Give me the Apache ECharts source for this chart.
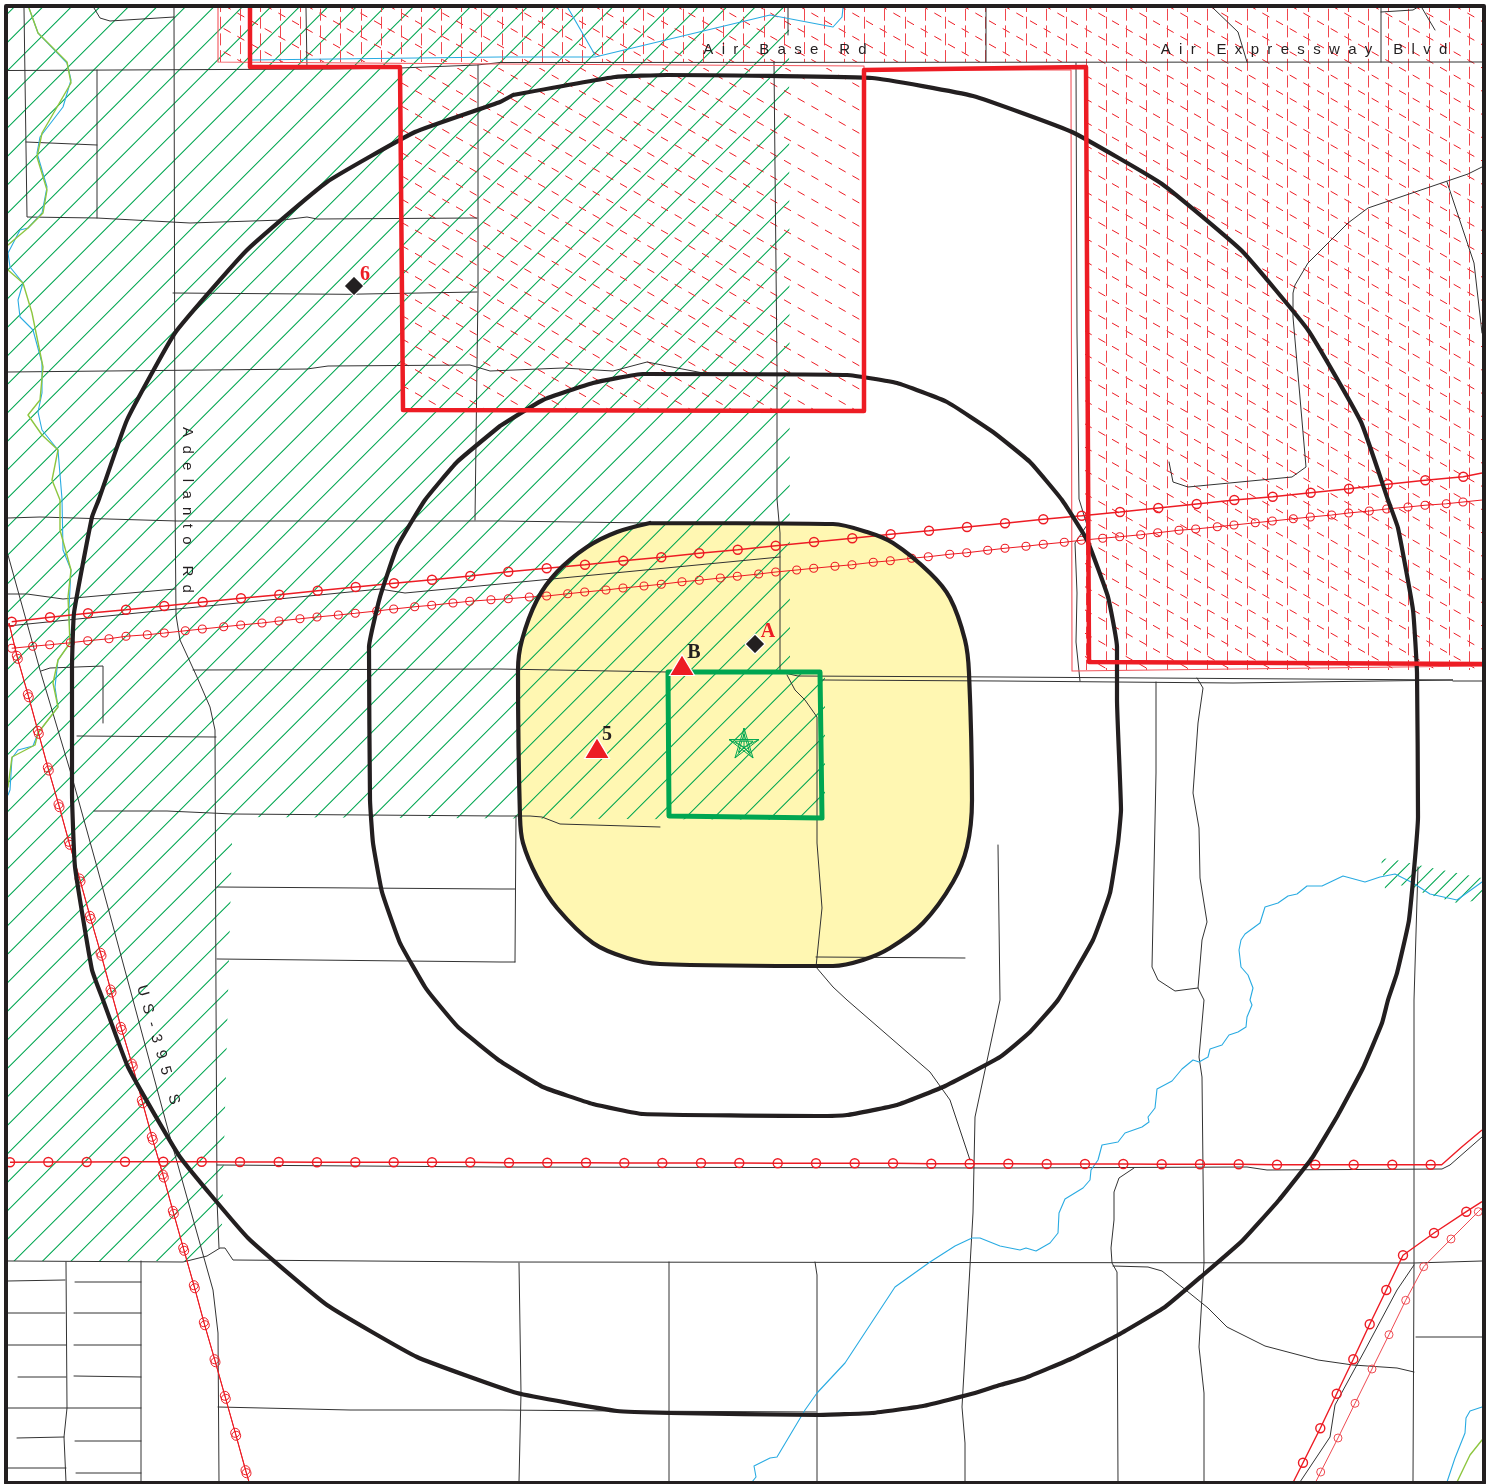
<!DOCTYPE html>
<html><head><meta charset="utf-8">
<style>html,body{margin:0;padding:0;background:#fff}#c{width:1492px;height:1484px}</style>
<script src="https://cdn.jsdelivr.net/npm/echarts@6/dist/echarts.min.js"></script>
</head><body><div id="c"></div>
<script>
// ---- map data (x, y in map units) ----
const frame=[[6,6],[1484,6],[1484,1483],[6,1483],[6,6]];
const outerRing=[[513,95],[615,77],[667,75],[872,78],[973,96],[1072,132],[1162,184],[1242,251],[1308,330],[1361,422],[1388,500],[1398,528],[1413,610],[1417,673],[1418,817],[1409,920],[1397,973],[1388,1000],[1382,1023],[1363,1068],[1338,1115],[1312,1158],[1279,1200],[1242,1241],[1203,1275],[1165,1307],[1118,1335],[1073,1358],[1025,1378],[1000,1385],[975,1393],[923,1406],[872,1413],[817,1415],[670,1413],[617,1411],[517,1393],[417,1357],[327,1305],[248,1238],[180,1157],[128,1067],[103,1000],[92,970],[75,867],[72,793],[72,667],[74,613],[92,517],[99,499],[127,420],[175,333],[247,250],[327,182],[415,132],[500,102],[513,95]];
const midRing=[[500,426],[543,400],[593,383],[643,374],[847,375],[897,383],[947,402],[993,432],[1030,462],[1062,500],[1087,540],[1108,597],[1117,647],[1117,700],[1121,810],[1118,843],[1110,893],[1093,940],[1058,1000],[1030,1032],[1000,1057],[943,1087],[897,1105],[847,1115],[817,1116],[643,1114],[593,1104],[543,1087],[500,1061],[458,1027],[435,1000],[425,987],[400,943],[382,892],[373,843],[370,800],[369,647],[380,597],[397,547],[425,500],[457,462],[500,426]];
const innerRing=[[650,523],[833,524],[867,532],[893,543],[930,573],[950,598],[965,640],[969,673],[972,800],[967,847],[953,882],[923,923],[890,948],[863,960],[833,966],[660,964],[627,958],[593,943],[557,908],[537,877],[523,843],[520,817],[518,670],[522,640],[537,600],[557,572],[587,547],[617,532],[650,523]];
const greenSquare=[[668,672],[820,672],[822,818],[669,816],[668,672]];
const greenZone=[[8,8],[789,8],[790,672],[825,672],[825,820],[232,817],[232,843],[222,1225],[190,1261],[8,1261]];
const greenPatch=[[1381,858],[1396,860],[1432,868],[1482,878],[1482,900],[1457,903],[1430,895],[1400,885],[1385,889]];
const redBlock=[[400,68],[864,68],[864,410],[400,410]];
const redBand=[[218,8],[1482,8],[1482,670],[1085,670],[1085,62],[218,62]];
const redThick=[[250,8],[250,67],[400,67],[403,410],[864,411],[864,70],[1086,67],[1089,662],[1482,664]];
const redThin=[[218,8],[218,62],[500,64],[864,66],[864,70],[1071,70],[1072,671],[1482,666]];

const powerA=[[11.7,621.7],[50,617.3],[88,613.3],[126,609.7],[164.3,606],[202.7,602],[241,598.3],[279.3,594.7],[317.7,590.7],[355.7,587],[394,583.3],[432,579.7],[470.3,576],[508.3,571.7],[546.7,568.3],[585,564.7],[623.3,560.7],[661.3,557.3],[699.3,553.3],[737.7,549.7],[775.7,545.7],[814,542],[852.3,538.3],[890.7,534.3],[929,530.7],[967,527],[1005,523.3],[1043.3,519.3],[1081.7,515.7],[1120,512],[1158.3,508],[1196.7,504],[1234.3,500],[1272.7,496.7],[1310.7,492.7],[1349,488.7],[1387.7,484.3],[1425.3,480.3],[1463.3,476.7]];
const powerAEnd=[1482,473];
const powerB=[[11.7,648.3],[32.7,646.3],[49.7,644.7],[70.3,642.7],[87.7,640.7],[109,638.7],[126,636.3],[147.3,634.7],[164.3,633],[185.3,630.7],[202.3,629],[223.7,626.7],[240.7,625],[262,623],[279,621],[300,618.7],[317,617],[338.3,615],[355.3,613.3],[376.7,611],[393.7,609],[414.7,606.7],[431.7,605.3],[453,603],[469.7,601.3],[491,599.7],[508.3,598.7],[529.3,597],[546.7,596],[567.7,593.7],[584.7,592],[606,590],[623,588],[644,586],[661.3,584.3],[682,581.7],[699.3,580.3],[720.3,578],[737.3,576.3],[758.7,574],[775.7,572],[796.7,570],[813.7,568.3],[835,566.3],[852,564.7],[873.3,562.3],[890.3,560.7],[911.7,558.3],[928.3,556.7],[949.7,554.3],[966.7,552.7],[987.7,550.3],[1005,548.3],[1026,546.3],[1043.3,544.3],[1064.3,542.3],[1081.3,540.3],[1102.7,538.3],[1119.7,536.7],[1140.7,534.7],[1157.7,532.7],[1179,530.3],[1195.7,529],[1217.3,526.7],[1234,525],[1255.3,522.7],[1272.3,521],[1293.3,518.7],[1310.3,517],[1331.7,515],[1348.7,513],[1369.3,511],[1386.7,509],[1408,507],[1425,505.3],[1446.3,503.7],[1463,502]];
const powerBEnd=[1482,500];
const powerC=[[10,1162.3],[48.3,1162],[86.7,1162],[125,1161.7],[163.3,1161.7],[201.7,1161.7],[240,1162],[278.7,1162],[317,1162.3],[355.3,1162.3],[393.7,1162.3],[432,1162.3],[470.3,1162.3],[509,1162.7],[547.3,1162.7],[586,1162.7],[624.3,1163],[662.3,1163],[701,1163],[739.3,1163],[777.7,1163.3],[816,1163.3],[854.7,1163.3],[893,1163.3],[931.3,1163.7],[969.7,1163.7],[1008.3,1163.7],[1046.7,1164],[1085,1164],[1123.3,1164],[1161.7,1164.3],[1200,1164.3],[1238.7,1164.3],[1277,1164.7],[1315.3,1164.7],[1353.7,1164.7],[1392.3,1164.7],[1430.7,1164.7]];
const powerCBend=[1441.7,1164.7];
const powerCTail=[1462,1146.7];
const powerCEnd=[1482,1130];
const powerD1=[[16.8,655.8],[27.8,694.2],[37.8,730.8],[47.8,767.5],[58.5,804.2],[68.8,841.8],[79.5,878.5],[89.8,915.8],[100.5,952.8],[110.5,989.5],[120.8,1026.8],[131.8,1063.5],[141.8,1100.2],[151.8,1136.8],[162.8,1174.5],[172.8,1210.8],[183.2,1247.8],[193.8,1285.2],[203.8,1322.2],[214.5,1359.2],[224.8,1395.8],[235.2,1432.8],[245.5,1470.2]];
const powerD2=[[17.8,658.8],[28.8,697.2],[38.8,733.8],[48.8,770.5],[59.5,807.2],[69.8,844.8],[80.5,881.5],[90.8,918.8],[101.5,955.8],[111.5,992.5],[121.8,1029.8],[132.8,1066.5],[142.8,1103.2],[152.8,1139.8],[163.8,1177.5],[173.8,1213.8],[184.2,1250.8],[194.8,1288.2],[204.8,1325.2],[215.5,1362.2],[225.8,1398.8],[236.2,1435.8],[246.5,1473.2]];
const powerDStart=[9,623];
const powerDEnd=[249,1482];
const powerE=[[1466.3,1211.7],[1434,1233],[1403,1255.3],[1386.3,1290],[1369.7,1324.3],[1353.3,1359.3],[1336.7,1393.7],[1320.3,1428.3],[1303,1462.7]];
const powerEStart=[1482,1201.7];
const powerEEnd=[1293.3,1482];
const powerF=[[1478.3,1211.7],[1451,1239],[1423.7,1266.7],[1405.7,1300.3],[1389,1334.7],[1372,1369],[1355,1403.3],[1338,1438],[1320.7,1472]];
const powerFStart=[1482,1208];
const powerFEnd=[1315.7,1482];

const roads=[
[[8,70.5],[330,69],[400,68],[477,65],[500,62.5],[1482,62]],
[[174,8],[175,499],[176,615],[180,640],[197,677],[210,707],[215,730],[216,999],[217,1200],[219,1248]],
[[24,8],[27,217],[97,218],[190,223],[283,220],[307,217],[317,219],[477,218]],
[[97,70],[97,218]],
[[26,142],[97,145]],
[[94,8],[100,18],[110,21],[174,17]],
[[173,293],[347,294.3],[477,292]],
[[8,372],[307,369],[328,366],[470,365],[490,371],[563,368],[613,371],[647,362],[667,366],[703,373],[780,374]],
[[478,65],[478,292],[477,365],[475,520]],
[[774,62],[775,167],[777,367],[777,499],[780,533],[780,670]],
[[8,518],[40,517],[177,521],[500,521],[650,523],[780,523]],
[[8,555],[40,670],[72,777],[97,867],[133,1000],[170,1137],[213,1290],[218,1333],[219,1482]],
[[8,594],[27,594],[63,599],[175,589]],
[[8,626],[167,610],[380,589],[405,593],[500,584],[780,557]],
[[41,671],[50,668],[103,666],[103,723]],
[[77,736],[216,737]],
[[94,811],[167,811],[233,814],[500,816],[530,816],[542,817],[560,824],[660,827]],
[[193,670],[500,669],[667,672]],
[[217,887],[500,889],[515,889]],
[[516,816],[515,962]],
[[217,959],[500,962],[515,962]],
[[780,672],[798,676],[1000,677],[1453,680],[1453,682],[1233,683],[1000,681],[822,680]],
[[1453,681],[1482,681]],
[[787,675],[795,690],[805,700],[817,717],[817,843],[822,908],[816,967],[833,987],[847,1000],[930,1072],[950,1100],[970,1160]],
[[816,957],[965,958]],
[[998,845],[1000,1000],[975,1117],[973,1213],[962,1407],[965,1443],[965,1482]],
[[1156,682],[1156,773],[1152,967],[1158,980],[1175,991],[1198,988]],
[[1197,678],[1203,688],[1198,723],[1193,793],[1199,828],[1200,878],[1207,922],[1202,940],[1198,988],[1204,1000],[1199,1057],[1202,1077],[1204,1263],[1199,1347],[1204,1393],[1204,1482]],
[[1418,867],[1414,1000],[1414,1263],[1413,1482]],
[[217,1165],[500,1167],[1000,1168],[1247,1167],[1267,1170],[1442,1169],[1450,1165],[1482,1137]],
[[8,1261],[183,1262],[207,1256],[220,1248],[225,1248],[233,1260],[500,1262],[1414,1263],[1482,1261]],
[[66,1262],[67,1408],[64,1437],[66,1482]],
[[141,1261],[141,1482]],
[[8,1281],[65,1280]],[[8,1313],[65,1313]],[[8,1345],[66,1345]],[[18,1377],[66,1377]],[[8,1408],[141,1408]],[[17,1438],[64,1437]],[[8,1468],[66,1468]],
[[75,1282],[141,1282]],[[74,1313],[141,1313]],[[74,1345],[141,1345]],[[74,1376],[141,1377]],[[75,1441],[141,1441]],[[76,1473],[141,1473]],
[[218,1407],[350,1410],[500,1410],[617,1411],[816,1412]],
[[519,1263],[521,1393],[519,1482]],
[[669,1262],[669,1482]],
[[815,1262],[817,1275],[817,1482]],
[[1134,1168],[1119,1178],[1114,1192],[1114,1220],[1111,1248],[1112,1263],[1117,1272],[1118,1482]],
[[1113,1266],[1148,1267],[1162,1271],[1182,1287],[1208,1308],[1227,1327],[1265,1346],[1318,1360],[1353,1365],[1397,1368],[1414,1372]],
[[1414,1265],[1397,1290],[1365,1350],[1335,1405],[1330,1437],[1300,1482]],
[[1416,1337],[1482,1337]],
[[1213,8],[1238,32],[1247,62]],
[[1381,12],[1413,10],[1418,7]],
[[1381,8],[1381,62]],
[[1422,8],[1435,30]],
[[788,8],[788,35]],
[[306,8],[307,68]],
[[986,8],[986,62]],
[[1482,167],[1468,174],[1368,208],[1348,223],[1308,263],[1295,285],[1293,293],[1293,317],[1306,467],[1292,477],[1188,487],[1173,482],[1169,462]],
[[1447,182],[1474,263],[1482,333]],
[[1076,63],[1077,333],[1079,499],[1087,525],[1075,543],[1077,593],[1076,642],[1080,681]]
];

const blueStreams=[
[[29,8],[38,33],[67,63],[71,80],[63,107],[40,137],[37,153],[47,187],[42,213],[28,228],[20,230],[8,253],[10,267],[23,283],[18,300],[20,317],[33,330],[42,363],[42,393],[38,412],[42,430],[58,450],[62,499],[63,550],[71,570],[69,607],[70,643],[58,660],[55,687],[58,707],[38,733],[33,746],[18,750],[12,758],[10,790],[8,795]],
[[250,60],[500,57],[595,57],[770,15],[833,27],[842,17],[843,8]],
[[568,8],[595,55]],
[[1482,882],[1457,900],[1430,894],[1413,883],[1395,874],[1380,877],[1365,882],[1343,876],[1322,886],[1307,886],[1297,894],[1288,896],[1278,903],[1265,907],[1260,923],[1245,934],[1241,940],[1239,950],[1241,967],[1248,975],[1253,988],[1250,1000],[1252,1005],[1247,1017],[1246,1027],[1238,1032],[1229,1035],[1222,1045],[1210,1049],[1208,1057],[1199,1062],[1193,1060],[1182,1069],[1172,1081],[1157,1089],[1155,1108],[1148,1117],[1149,1122],[1142,1127],[1125,1133],[1118,1142],[1102,1145],[1098,1160],[1091,1170],[1090,1180],[1083,1188],[1065,1199],[1059,1213],[1058,1233],[1050,1243],[1036,1251],[1026,1248],[1020,1250],[1000,1246],[980,1238],[972,1238],[955,1246],[930,1262],[895,1287],[868,1328],[845,1363],[817,1393],[805,1410],[777,1457],[770,1458],[754,1466],[756,1477],[752,1482]],
[[1482,1407],[1470,1411],[1466,1418],[1465,1433],[1455,1458],[1447,1482]]
];
const greenStreams=[
[[29,8],[38,33],[67,62],[71,83],[42,133],[37,157],[47,190],[43,213],[28,228],[8,245]],
[[8,270],[23,283],[32,313],[43,367],[40,400],[28,415],[42,435],[58,450],[52,480],[60,500],[60,530],[71,570],[68,597],[70,643],[58,660],[53,683],[58,707],[38,733],[35,745],[12,757],[8,787]],
[[1482,1440],[1470,1455],[1457,1482]]
];

const triangleSites=[[682,665],[597,748]];
const diamondSites=[[755,644],[354,286]];
const starSite=[[744,743]];
const siteLabels=[['B',694,653,'#231f20'],['5',607,735,'#231f20'],['A',768,632,'#ed1c24'],['6',365,275,'#ed1c24']];
const roadLabels=[
['A  i  r     B  a  s  e     R  d',785,50,0],
['A  i  r     E  x  p  r  e  s  s  w  a  y     B  l  v  d',1304,50,0],
['A  d  e  l  a  n  t  o     R  d',187,510,-90],
['U  S  -  3  9  5     S',158,1045,-74]
];

// ---- hatch tiles ----
function tile(w,h,color,width,draw){
  const c=document.createElement('canvas');c.width=w;c.height=h;
  const g=c.getContext('2d');g.strokeStyle=color;g.lineWidth=width;g.lineCap='butt';
  draw(g,w,h);return {image:c,repeat:'repeat'};
}
function diagonal(pitch,w,phase){
  return tile(w,w,'#00a651',1.05,g=>{
    g.beginPath();
    for(let v=phase-pitch*Math.ceil(phase/pitch);v<=2*w+pitch;v+=pitch){g.moveTo(v+1,-1);g.lineTo(-1,v+1);}
    g.stroke();
  });
}
const hatchGreen=diagonal(28.5,57,21.2);
const hatchGreenFine=diagonal(14.25,57,7);
const hatchRedDash=tile(41,93,'#ed1c24',1,(g,w,h)=>{
  g.beginPath();
  for(let i=0;i<3;i++)for(let j=0;j<4;j++){
    const x=(5+i*13.67)%w,y=(44+i*7.75+j*23.25)%h;
    for(const dx of [-w,0,w])for(const dy of [-h,0,h]){g.moveTo(x+dx,y+dy);g.lineTo(x+dx+7,y+dy+4);}
  }
  g.stroke();
});
const hatchRedVert=tile(403,167,'#f0464d',1,(g,w,h)=>{
  g.setLineDash([12,4.7]);
  for(let k=0;k<20;k++){
    const x=Math.round(18+k*20.15)%w+0.5,off=k%2?8:0;
    g.beginPath();g.lineDashOffset=off;g.moveTo(x,0);g.lineTo(x,h);g.stroke();
  }
});

// ---- series builders ----
const poly=(pts,fill,z,smooth)=>({type:'custom',coordinateSystem:'cartesian2d',silent:true,animation:false,z,clip:false,
  data:[[0,0]],encode:{x:0,y:1},
  renderItem:(p,api)=>({type:'polygon',shape:{points:pts.map(q=>api.coord(q)),smooth:smooth||0},style:{fill,stroke:null}})});
const line=(pts,color,width,z,smooth)=>({type:'line',data:pts,symbol:'none',silent:true,animation:false,z,clip:false,smooth:smooth||false,
  lineStyle:{color,width,join:'round',cap:'round'}});
const towers=(head,pts,tail,color,width,size,z)=>({type:'line',silent:true,animation:false,z,clip:false,
  symbol:'circle',symbolSize:size,showSymbol:true,showAllSymbol:true,
  data:[...head.map(p=>({value:p,symbol:'none'})),...pts.map(p=>({value:p})),...tail.map(p=>({value:p,symbol:'none'}))],
  lineStyle:{color,width},itemStyle:{color:'rgba(0,0,0,0)',borderColor:color,borderWidth:width}});
const marks=(pts,symbol,size,color,border,z)=>({type:'scatter',data:pts,symbol,symbolSize:size,silent:true,animation:false,z,
  itemStyle:{color,borderColor:border,borderWidth:1.2,opacity:1}});
const texts=(name,rows,font)=>rows.map(r=>({type:'scatter',name,silent:true,animation:false,z:20,symbolSize:1,
  data:[[r[1],r[2]]],itemStyle:{color:'rgba(0,0,0,0)',opacity:1},
  label:{show:true,position:'inside',formatter:r[0],rotate:typeof r[3]==='number'?r[3]:0,opacity:1,
    color:typeof r[3]==='string'?r[3]:'#231f20',...font}}));

const series=[
  poly(innerRing,'#fff7b2',1,0.3),
  poly(greenZone,hatchGreen,2),
  poly(greenPatch,hatchGreenFine,2),
  poly(redBlock,hatchRedDash,3),
  poly(redBand,hatchRedDash,3),
  poly(redBand,hatchRedVert,3),
  ...roads.map(r=>line(r,'#333333',1,4)),
  ...blueStreams.map(r=>line(r,'#29abe2',1.1,5)),
  ...greenStreams.map(r=>line(r,'#8dc63f',1.4,5)),
  line(redThin,'#f2545b',1.1,6),
  towers([],powerA,[powerAEnd],'#ed1c24',1.4,9,7),
  towers([],powerB,[powerBEnd],'#ed1c24',1.1,8,7),
  towers([],powerC,[powerCBend,powerCTail,powerCEnd],'#ed1c24',1.4,9,7),
  towers([powerDStart],powerD1,[powerDEnd],'#ed1c24',1,9,7),
  towers([powerDStart],powerD2,[powerDEnd],'#ed1c24',1,9,7),
  towers([powerEStart],powerE,[powerEEnd],'#ed1c24',1.4,9,7),
  towers([powerFStart],powerF,[powerFEnd],'#ef4b52',1,8,7),
  line(outerRing,'#231f20',4.2,8,0.12),
  line(midRing,'#231f20',4.2,8,0.12),
  line(innerRing,'#231f20',4.2,8,0.3),
  line(redThick,'#ed1c24',4.5,9),
  line(greenSquare,'#00a651',5,10),
  marks(triangleSites,'triangle',[25,21],'#ed1c24','#ffffff',11),
  marks(diamondSites,'diamond',[20,20],'#231f20','#ffffff',11),
  {type:'scatter',data:starSite,silent:true,animation:false,z:11,symbolSize:30,
   symbol:'path://M50 2L79 93L2 37L98 37L21 93ZM50 20L68 76L21 42L79 42L32 76ZM50 2L50 60L79 93M2 37L50 60L21 93M98 37L50 60',
   itemStyle:{color:'rgba(0,0,0,0)',borderColor:'#00a651',borderWidth:1,opacity:1}},
  ...texts('sites',siteLabels,{fontFamily:'Liberation Serif',fontWeight:'bold',fontSize:20}),
  ...texts('roads',roadLabels,{fontFamily:'Liberation Sans Narrow, Liberation Sans',fontSize:15}),
  line(frame,'#231f20',4,30)
];

const chart=echarts.init(document.getElementById('c'),null,{renderer:'canvas'});
chart.setOption({
  animation:false,backgroundColor:'#ffffff',
  grid:{left:0,right:0,top:0,bottom:0,containLabel:false},
  xAxis:{type:'value',min:0,max:1492,show:false},
  yAxis:{type:'value',min:0,max:1484,inverse:true,show:false},
  tooltip:{show:false},legend:{show:false},
  series
});
</script></body></html>
